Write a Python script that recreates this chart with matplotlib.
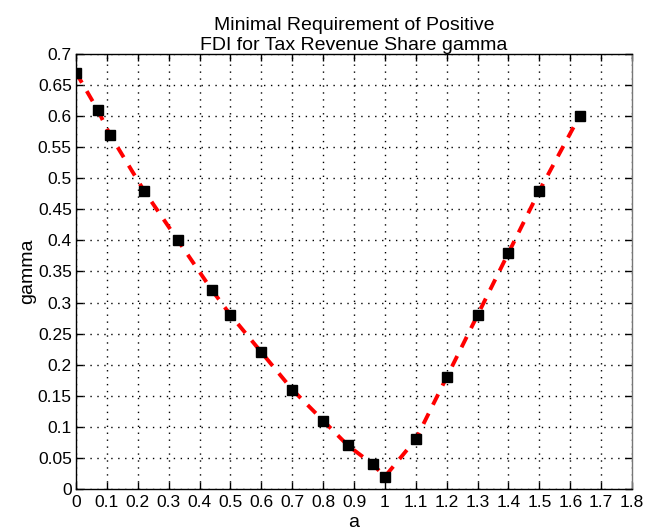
import matplotlib
matplotlib.use("Agg")
import matplotlib.pyplot as plt
import numpy as np

a_vals = [0.0, 0.07, 0.11, 0.22, 0.33, 0.44, 0.50, 0.60, 0.70, 0.80, 0.88, 0.96,
          1.00, 1.10, 1.20, 1.30, 1.40, 1.50, 1.63]
gamma_vals = [0.67, 0.61, 0.57, 0.48, 0.40, 0.32, 0.28, 0.22, 0.16, 0.11, 0.07, 0.04,
              0.02, 0.08, 0.18, 0.28, 0.38, 0.48, 0.60]
x_ticks = [0, 0.1, 0.2, 0.3, 0.4, 0.5, 0.6, 0.7, 0.8, 0.9, 1, 1.1, 1.2, 1.3, 1.4, 1.5, 1.6, 1.7, 1.8]
x_labels = ["0", "0.1", "0.2", "0.3", "0.4", "0.5", "0.6", "0.7", "0.8", "0.9", "1", "1.1",
            "1.2", "1.3", "1.4", "1.5", "1.6", "1.7", "1.8"]
y_ticks = [0, 0.05, 0.1, 0.15, 0.2, 0.25, 0.3, 0.35, 0.4, 0.45, 0.5, 0.55, 0.6, 0.65, 0.7]
y_labels = ["0", "0.05", "0.1", "0.15", "0.2", "0.25", "0.3", "0.35", "0.4", "0.45", "0.5",
            "0.55", "0.6", "0.65", "0.7"]

plt.rcParams['font.family'] = ['Liberation Sans', 'DejaVu Sans']

fig = plt.figure(figsize=(6.56, 5.30), dpi=100)
ax = fig.add_axes([0.1159, 0.0774, 0.8476, 0.8208])

ax.plot(a_vals, gamma_vals, color='red', linestyle=(0, (3, 2.5)), linewidth=2.8, zorder=3)
ax.plot(a_vals, gamma_vals, linestyle='none', marker='s', markersize=7.5,
        markerfacecolor='black', markeredgecolor='black', zorder=4)

ax.set_xlim(0, 1.8)
ax.set_ylim(0, 0.7)
ax.set_xticks(x_ticks)
ax.set_xticklabels(x_labels)
ax.set_yticks(y_ticks)
ax.set_yticklabels(y_labels)
ax.tick_params(direction='in', top=True, right=True, length=5, width=1, labelsize=12.5)
ax.tick_params(axis='x', pad=4)
ax.tick_params(axis='y', pad=3)
ax.grid(True, linestyle=(0, (1, 4)), color='black', linewidth=1)
for s in ax.spines.values():
    s.set_linewidth(1)
ax.spines['right'].set_color('#777777')

ax.set_xlabel('a', fontsize=14, labelpad=3)
ax.set_ylabel('gamma', fontsize=14, labelpad=1)
ax.set_title('Minimal Requirement of Positive\nFDI for Tax Revenue Share gamma', fontsize=14,
             pad=3, linespacing=1.25)

fig.savefig('out.png', dpi=100)
